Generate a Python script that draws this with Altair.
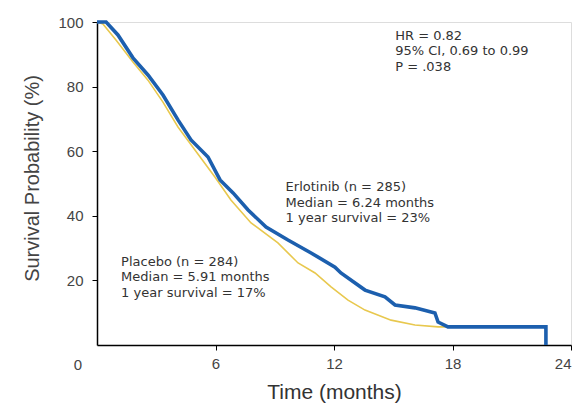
import altair as alt
import pandas as pd

# Kaplan-Meier curves (months, survival %)
erl_months = [0, 0.46, 1.06, 1.82, 2.58, 3.34, 4.10, 4.76, 5.62, 6.23, 6.89, 7.65, 8.56,
              9.67, 10.84, 12.05, 12.35, 13.57, 14.58, 15.09, 16.10, 17.11, 17.27, 17.77,
              22.73, 22.73]
erl_surv = [100, 100, 96, 88.9, 83.6, 77.4, 69.7, 63.5, 58.2, 51.1, 47.1, 41.8, 36.5,
            32.5, 28.5, 24.1, 22.3, 17.0, 14.9, 12.4, 11.5, 9.9, 7.1, 5.6,
            5.6, 0]

pla_months = [0, 0.30, 0.96, 1.82, 2.58, 3.34, 4.10, 4.96, 5.97, 6.78, 7.80, 9.16,
              10.18, 11.04, 11.85, 12.71, 13.57, 14.89, 16.10, 17.27, 17.90]
pla_surv = [100, 99.4, 94.4, 87.6, 82.0, 75.2, 67.5, 60.4, 52.0, 44.9, 37.8, 31.6,
            25.4, 22.3, 18.0, 13.9, 10.8, 7.7, 6.2, 5.6, 5.6]

x_ticks = [6, 12, 18, 24]
y_ticks = [20, 40, 60, 80, 100]

stats_lines = ["HR = 0.82", "95% CI, 0.69 to 0.99", "P = .038"]
erl_lines = ["Erlotinib (n = 285)", "Median = 6.24 months", "1 year survival = 23%"]
pla_lines = ["Placebo (n = 284)", "Median = 5.91 months", "1 year survival = 17%"]

# annotation anchor positions (months, %)
stats_pos = ([15.1] * 3, [95.7, 90.9, 86.2])
erl_pos = ([9.55] * 3, [48.9, 44.1, 39.3])
pla_pos = ([1.22] * 3, [25.7, 21.0, 16.2])

W, H = 474, 323

erl = pd.DataFrame({"t": erl_months, "s": erl_surv, "i": range(len(erl_months))})
pla = pd.DataFrame({"t": pla_months, "s": pla_surv, "i": range(len(pla_months))})

xs = alt.Scale(domain=[0, 24], nice=False)
ys = alt.Scale(domain=[0, 100], nice=False)

x_axis = alt.Axis(values=x_ticks, title="Time (months)", grid=False,
                  domainColor="black", domainWidth=1.5, tickColor="black",
                  tickSize=5, labelPadding=6, labelFontSize=15, labelColor="#444",
                  labelFont="Liberation Sans", titleFont="Liberation Sans",
                  titleFontSize=21, titleFontWeight="normal", titleColor="#333",
                  titleY=36)
y_axis = alt.Axis(values=y_ticks, title="Survival Probability (%)", grid=False,
                  domainColor="black", domainWidth=1.5, tickColor="black",
                  tickSize=5, labelPadding=9, labelFontSize=15, labelColor="#444",
                  labelFont="Liberation Sans", titleFont="Liberation Sans",
                  titleFontSize=20, titleFontWeight="normal", titleColor="#444",
                  titleX=-55, titleY=156)

base_x = alt.X("t:Q", scale=xs, axis=x_axis)
base_y = alt.Y("s:Q", scale=ys, axis=y_axis)

pla_line = alt.Chart(pla).mark_line(color="#e8c84e", strokeWidth=1.6).encode(
    x=base_x, y=base_y, order="i:Q")
erl_line = alt.Chart(erl).mark_line(color="#1c5fae", strokeWidth=3.6).encode(
    x=alt.X("t:Q", scale=xs), y=alt.Y("s:Q", scale=ys), order="i:Q")


def ann(lines, pos):
    df = pd.DataFrame({"t": pos[0], "s": pos[1], "label": lines})
    return alt.Chart(df).mark_text(align="left", baseline="middle", fontSize=13,
                                   font="DejaVu Sans", color="#333").encode(
        x=alt.X("t:Q", scale=xs), y=alt.Y("s:Q", scale=ys), text="label:N")


corner = alt.Chart(pd.DataFrame({"label": ["0"]})).mark_text(
    fontSize=15, font="Liberation Sans", color="#444", baseline="middle",
    align="center").encode(x=alt.value(-19), y=alt.value(343), text="label:N")

chart = alt.layer(
    pla_line, erl_line,
    ann(stats_lines, stats_pos), ann(erl_lines, erl_pos), ann(pla_lines, pla_pos),
    corner,
).properties(
    width=W, height=H,
    padding={"left": 14, "top": 6, "right": 2, "bottom": 2},
).configure_view(stroke=None).configure(background="white")

chart.save("out.html", embed_options={"renderer": "svg", "actions": False})
